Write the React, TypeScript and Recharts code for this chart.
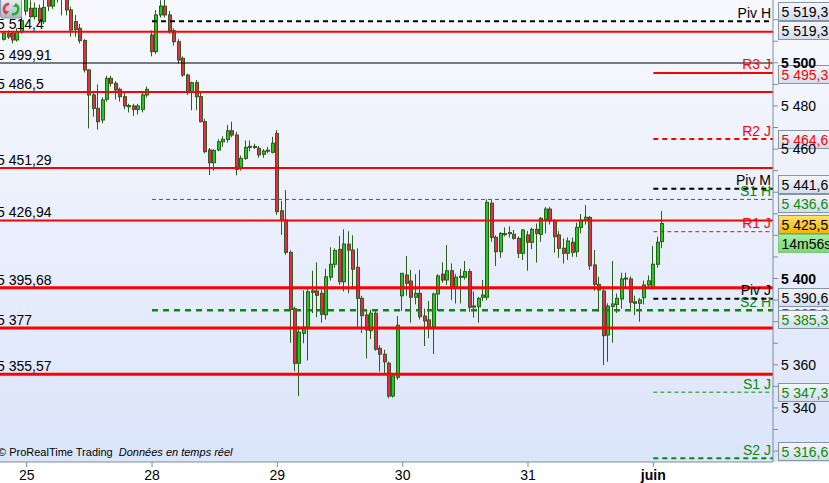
import React from "react"
import { ComposedChart, Bar, XAxis, YAxis, ReferenceLine } from "recharts"

// hourly candles from the 25th to 1 June
const opens = [
  5510.9, 5513.5, 5513.7, 5510.6, 5514.4, 5524.0, 5525.3, 5521.4, 5525.3, 5519.1,
  5530.0, 5526.3, 5531.0, 5533.0, 5529.5, 5524.5, 5519.1, 5516.0, 5510.3, 5496.7,
  5485.1, 5478.9, 5473.5, 5483.1, 5492.8, 5490.5, 5487.7, 5484.3, 5479.6, 5480.0,
  5478.4, 5478.4, 5485.1, 5512.9, 5505.2, 5522.2, 5526.3, 5522.2, 5514.9, 5509.8,
  5502.1, 5494.3, 5486.6, 5490.8, 5484.3, 5472.7, 5459.6, 5453.7, 5459.6, 5463.4,
  5464.5, 5468.5, 5466.5, 5451.6, 5455.7, 5460.8, 5461.2, 5460.4, 5457.6, 5459.0,
  5458.5, 5467.3, 5431.4, 5427.1, 5412.1, 5386.0, 5360.7, 5374.6, 5376.9, 5394.3,
  5394.2, 5393.1, 5383.2, 5400.6, 5406.6, 5413.5, 5398.5, 5415.9, 5413.2, 5405.2,
  5390.8, 5383.1, 5375.8, 5383.9, 5367.6, 5364.9, 5360.7, 5345.5, 5354.2, 5392.0,
  5401.6, 5398.8, 5391.3, 5393.1, 5382.6, 5380.8, 5377.4, 5392.8, 5402.0, 5399.3,
  5403.6, 5395.9, 5400.6, 5400.6, 5403.2, 5386.7, 5386.9, 5391.3, 5391.3, 5434.9,
  5419.1, 5412.4, 5420.5, 5420.8, 5420.5, 5418.6, 5411.7, 5420.2, 5416.8, 5422.8,
  5420.5, 5427.4, 5432.2, 5426.8, 5420.2, 5414.0, 5411.7, 5416.8, 5412.4, 5423.7,
  5427.1, 5428.3, 5406.3, 5397.3, 5394.2, 5373.8, 5387.1, 5388.0, 5390.5, 5399.8,
  5399.8, 5389.2, 5388.5, 5391.1, 5397.0, 5395.8, 5406.6, 5417.1,
]
const highs = [
  5514.4, 5515.0, 5514.4, 5516.0, 5521.4, 5532.0, 5529.0, 5528.0, 5527.0, 5529.5,
  5532.0, 5533.0, 5535.0, 5535.0, 5531.0, 5526.0, 5522.2, 5518.0, 5511.0, 5497.0,
  5487.0, 5490.0, 5484.0, 5494.0, 5494.0, 5491.5, 5488.5, 5486.0, 5481.0, 5481.0,
  5481.0, 5486.0, 5489.0, 5515.0, 5524.5, 5529.0, 5530.0, 5524.0, 5516.0, 5511.0,
  5503.0, 5495.0, 5491.3, 5492.0, 5486.0, 5474.0, 5460.5, 5460.0, 5464.5, 5466.0,
  5471.2, 5472.7, 5468.0, 5457.0, 5464.0, 5464.0, 5462.5, 5461.5, 5460.0, 5461.0,
  5465.7, 5468.8, 5436.0, 5441.0, 5413.0, 5387.0, 5378.0, 5394.5, 5395.0, 5403.6,
  5407.5, 5395.0, 5404.5, 5414.5, 5414.0, 5419.7, 5422.8, 5422.0, 5420.0, 5414.0,
  5392.0, 5385.0, 5385.5, 5385.0, 5369.0, 5367.0, 5361.5, 5356.0, 5382.6, 5402.5,
  5410.4, 5404.0, 5402.0, 5404.0, 5386.0, 5389.6, 5393.5, 5402.0, 5407.5, 5415.5,
  5407.0, 5402.0, 5404.5, 5408.1, 5404.5, 5394.0, 5391.5, 5399.3, 5436.7, 5436.4,
  5420.0, 5421.5, 5423.7, 5424.2, 5422.5, 5419.5, 5423.0, 5422.0, 5423.5, 5425.5,
  5428.5, 5433.2, 5433.2, 5427.5, 5422.0, 5418.6, 5419.0, 5419.0, 5425.9, 5429.9,
  5434.1, 5429.0, 5413.2, 5400.8, 5396.0, 5388.5, 5408.1, 5393.0, 5402.7, 5402.7,
  5401.0, 5392.0, 5391.0, 5399.0, 5401.4, 5415.1, 5419.4, 5431.3,
]
const lows = [
  5510.3, 5511.0, 5509.0, 5509.8, 5513.5, 5522.0, 5520.6, 5520.0, 5518.5, 5518.0,
  5524.0, 5525.0, 5528.0, 5522.0, 5522.0, 5512.1, 5512.1, 5509.0, 5495.5, 5469.6,
  5475.0, 5469.0, 5472.0, 5482.0, 5489.0, 5483.0, 5482.0, 5478.5, 5477.0, 5475.3,
  5476.0, 5477.0, 5484.0, 5503.0, 5504.0, 5521.0, 5521.0, 5513.5, 5508.0, 5499.6,
  5493.5, 5485.1, 5478.0, 5478.1, 5472.4, 5458.0, 5448.0, 5450.0, 5459.0, 5461.0,
  5463.0, 5465.5, 5447.8, 5450.0, 5455.0, 5459.0, 5460.0, 5456.0, 5456.0, 5458.0,
  5458.0, 5429.5, 5420.2, 5411.0, 5370.2, 5357.0, 5345.5, 5370.0, 5362.0, 5384.0,
  5382.0, 5379.5, 5381.0, 5399.0, 5405.0, 5397.0, 5394.0, 5393.1, 5395.0, 5377.6,
  5374.7, 5363.0, 5372.0, 5366.5, 5356.8, 5356.0, 5344.5, 5344.8, 5353.0, 5385.0,
  5392.0, 5379.5, 5388.0, 5381.0, 5368.7, 5372.3, 5365.0, 5385.0, 5398.0, 5397.0,
  5390.0, 5388.4, 5388.4, 5399.5, 5384.6, 5381.9, 5379.5, 5389.5, 5390.0, 5417.0,
  5405.8, 5409.6, 5419.5, 5419.0, 5418.0, 5409.5, 5408.6, 5403.6, 5413.6, 5407.4,
  5417.0, 5421.0, 5425.0, 5412.0, 5409.6, 5407.0, 5408.6, 5410.0, 5410.0, 5421.0,
  5425.0, 5404.0, 5394.3, 5384.6, 5359.9, 5361.4, 5370.2, 5384.0, 5386.0, 5396.0,
  5386.0, 5383.0, 5380.0, 5388.0, 5395.5, 5395.0, 5405.0, 5414.0,
]
const closes = [
  5513.7, 5512.0, 5510.6, 5514.4, 5519.5, 5530.5, 5521.4, 5525.3, 5519.5, 5525.7,
  5526.3, 5531.0, 5533.0, 5529.5, 5524.5, 5515.2, 5515.5, 5510.3, 5496.7, 5485.1,
  5478.9, 5472.7, 5482.8, 5492.8, 5490.5, 5487.4, 5484.3, 5480.0, 5480.2, 5478.4,
  5480.0, 5485.1, 5487.7, 5505.2, 5522.2, 5526.3, 5522.2, 5514.9, 5509.8, 5501.3,
  5494.3, 5486.6, 5490.8, 5484.3, 5472.7, 5458.8, 5453.7, 5459.3, 5463.4, 5464.5,
  5468.5, 5466.5, 5450.6, 5455.7, 5460.8, 5461.3, 5460.8, 5457.3, 5459.1, 5459.5,
  5462.7, 5431.0, 5427.1, 5412.1, 5385.6, 5360.7, 5375.1, 5377.5, 5393.8, 5393.6,
  5392.2, 5383.4, 5400.8, 5406.6, 5413.0, 5398.5, 5416.0, 5413.2, 5404.3, 5390.8,
  5382.8, 5376.1, 5383.9, 5367.2, 5364.9, 5361.4, 5345.5, 5354.8, 5378.3, 5402.4,
  5397.8, 5391.3, 5393.1, 5382.3, 5380.3, 5377.4, 5392.8, 5401.2, 5399.3, 5403.6,
  5395.9, 5400.6, 5401.0, 5403.2, 5386.7, 5387.3, 5390.8, 5392.3, 5435.3, 5419.1,
  5412.4, 5420.9, 5420.8, 5421.3, 5418.6, 5411.7, 5422.5, 5416.8, 5422.8, 5420.9,
  5427.9, 5432.2, 5426.8, 5419.4, 5414.0, 5411.7, 5417.4, 5412.1, 5423.7, 5427.1,
  5428.4, 5405.9, 5397.3, 5394.7, 5373.5, 5387.2, 5388.2, 5390.8, 5399.8, 5400.2,
  5389.0, 5388.5, 5390.1, 5397.0, 5398.9, 5406.6, 5416.8, 5425.5,
]

// first candle of each day
const dayTicks = [5, 33, 61, 89, 117, 145]
const dayLabels = ["25", "28", "29", "30", "31", "juin"]

const priceTicks = [
  5320, 5330, 5340, 5350, 5360, 5370, 5380, 5390, 5400, 5410, 5420,
  5430, 5440, 5450, 5460, 5470, 5480, 5490, 5500, 5510, 5520,
]
const shownTicks = [5340, 5360, 5400, 5460, 5480, 5500]
const boldTicks = [5400, 5500]

// horizontal support / resistance lines drawn by hand
const levels = [5514.4, 5486.5, 5451.29, 5426.94, 5395.68, 5377, 5355.57]
const levelLabels = ["5 514,4", "5 486,5", "5 451,29", "5 426,94", "5 395,68", "5 377", "5 355,57"]
const lastRef = 5499.91
const lastRefLabel = "5 499,91"

// pivot points (H = weekly, M = monthly, J = daily)
const pivotNames = ["Piv H", "S1 H", "S2 H", "R3 J", "R2 J", "Piv M", "R1 J", "Piv J", "S1 J", "S2 J"]
const pivotValues = [5519.3, 5436.67, 5385.3, 5495.3, 5464.67, 5441.67, 5421.7, 5390.67, 5347.3, 5316.67]
const pivotStart = [33, 33, 33, 145, 145, 145, 145, 145, 145, 145]

// price tags on the right axis
const tagTexts = ["5 519,3", "5 519,3", "5 495,3", "5 464,6", "5 441,6", "5 436,6", "5 385,3", "5 390,6", "5 385,3", "5 347,3", "5 316,6", "14m56s", "5 425,5"]
const tagValues = [5519.3, 5519.3, 5495.3, 5464.67, 5441.67, 5436.67, 5385.3, 5390.67, 5385.3, 5347.3, 5316.67, 5425.5, 5425.5]

// --- styling ---
const FONT = "'Liberation Sans', Arial, sans-serif"
const RED = "#ff0000"
const GREEN = "#0a8a0a"
const WICK = "#2f5c1c"
const UP = "#1ecb1e"
const DOWN = "#f2264c"
const X_MIN = -0.96
const X_MAX = 171.74
const Y_MIN = 5314.93
const Y_MAX = 5529.12

const levelWidth = [2, 2, 2, 2, 3, 3, 3]
const pivotStyle: Record<string, { color: string; w: number; dash?: string }> = {
  "Piv H": { color: "#000", w: 2, dash: "5 4" },
  "S1 H": { color: GREEN, w: 1, dash: "4 3" },
  "S2 H": { color: GREEN, w: 2.5, dash: "6 5" },
  "R3 J": { color: RED, w: 2 },
  "R2 J": { color: RED, w: 2, dash: "5 4" },
  "Piv M": { color: "#000", w: 2, dash: "5 4" },
  "R1 J": { color: RED, w: 1, dash: "4 3" },
  "Piv J": { color: "#000", w: 2, dash: "5 4" },
  "S1 J": { color: GREEN, w: 1, dash: "4 3" },
  "S2 J": { color: GREEN, w: 2, dash: "5 4" },
}
const tagStyle = [
  { dy: -10, kind: "plain", color: "#000" },
  { dy: 9, kind: "plain", color: "#000" },
  { dy: 1, kind: "plain", color: RED },
  { dy: 0, kind: "plain", color: RED },
  { dy: -5, kind: "plain", color: "#000" },
  { dy: 4, kind: "plain", color: GREEN },
  { dy: 3, kind: "plain", color: GREEN },
  { dy: -2, kind: "plain", color: "#000" },
  { dy: 9, kind: "plain", color: GREEN },
  { dy: 0, kind: "plain", color: GREEN },
  { dy: -7, kind: "plain", color: GREEN },
  { dy: 19, kind: "timer", color: "#000" },
  { dy: 0, kind: "current", color: "#000" },
]

const rows = opens.map((o, i) => ({ i, o, h: highs[i], l: lows[i], c: closes[i], range: [lows[i], highs[i]] }))

const fmtPrice = (v: number) => `${Math.floor(v / 1000)} ${String(v % 1000).padStart(3, "0")}`

function Candle(props: any) {
  const { x, y, width, height } = props
  const p = props.payload || props
  if (x == null || y == null || p == null) return null
  const top = Math.min(y, y + height)
  const bottom = Math.max(y, y + height)
  const k = (bottom - top) / (p.h - p.l || 1)
  const py = (v: number) => top + (p.h - v) * k
  const left = Math.round(x + width / 2 - 2)
  const bTop = py(Math.max(p.o, p.c))
  const bBot = py(Math.min(p.o, p.c))
  return (
    <g>
      <line x1={left + 1.5} x2={left + 1.5} y1={top} y2={bottom} stroke={WICK} strokeWidth={1} />
      <rect x={left + 0.5} y={bTop} width={3} height={Math.max(bBot - bTop, 1)} fill={p.c >= p.o ? UP : DOWN} stroke={WICK} strokeWidth={1} />
    </g>
  )
}

function PriceTick(props: any) {
  const { x, y, payload } = props
  const v = payload.value
  if (!shownTicks.includes(v)) return null
  return (
    <text x={x + 1} y={y} dy={5} fontSize={14} fontFamily={FONT} fontWeight={boldTicks.includes(v) ? 700 : 400} fill="#000">
      {fmtPrice(v)}
    </text>
  )
}

function DayTick(props: any) {
  const { x, y, payload } = props
  const idx = dayTicks.indexOf(payload.value)
  const txt = dayLabels[idx]
  return (
    <text x={x} y={y} dy={11} textAnchor="middle" fontSize={14} fontFamily={FONT} fontWeight={txt === "juin" ? 700 : 400} fill="#000">
      {txt}
    </text>
  )
}

const leftLabel = (txt: string) => (props: any) => {
  const vb = props.viewBox
  return (
    <text x={vb.x - 3} y={vb.y - 3} fontSize={14} fontFamily={FONT} fill="#000">
      {txt}
    </text>
  )
}

const nameLabel = (txt: string, color: string) => (props: any) => {
  const vb = props.viewBox
  return (
    <text x={vb.x + vb.width - 2} y={vb.y - 3.5} textAnchor="end" fontSize={14} fontFamily={FONT} fill={color}>
      {txt}
    </text>
  )
}

const priceTag = (txt: string, k: number) => (props: any) => {
  const vb = props.viewBox
  const st = tagStyle[k]
  const bx = vb.x + vb.width + 5.5
  const by = Math.round(vb.y + st.dy - 9) + 0.5
  const gid = `tag${k}`
  const stops =
    st.kind === "current" ? ["#ffe36a", "#f2b400"] : st.kind === "timer" ? ["#a6f0a6", "#78d878"] : ["#f3f6fb", "#d5ddea"]
  return (
    <g>
      <defs>
        <linearGradient id={gid} x1="0" x2="0" y1="0" y2="1">
          <stop offset="0%" stopColor={stops[0]} />
          <stop offset="100%" stopColor={stops[1]} />
        </linearGradient>
      </defs>
      <rect x={bx} y={by} width={60} height={18} fill={`url(#${gid})`} stroke={st.kind === "timer" ? "#7cc87c" : "#8494aa"} strokeWidth={1} />
      <text x={bx + 3} y={by + 14} fontSize={14} fontFamily={FONT} fill={st.color}>
        {txt}
      </text>
    </g>
  )
}

function RefreshIcon() {
  return (
    <svg width={23} height={19} style={{ position: "absolute", left: 0, top: 0 }}>
      <defs>
        <linearGradient id="ico" x1="0" x2="0" y1="0" y2="1">
          <stop offset="0%" stopColor="#eef2f7" />
          <stop offset="100%" stopColor="#aab6c6" />
        </linearGradient>
      </defs>
      <rect x={0.5} y={-2} width={21} height={20} rx={2} fill="url(#ico)" stroke="#8a9ab0" />
      <path d="M9 4 A5 5 0 0 0 6 13" fill="none" stroke="#e23a3a" strokeWidth={2.4} />
      <path d="M3 11 L6 15 L9 11 Z" fill="#e23a3a" />
      <path d="M12 14 A5 5 0 0 0 16 5" fill="none" stroke="#22b022" strokeWidth={2.4} />
      <path d="M13 7 L16 3 L19 7 Z" fill="#22b022" />
    </svg>
  )
}

export default function App() {
  return (
    <div
      style={{
        position: "absolute",
        left: 0,
        top: 0,
        width: 829,
        height: 483,
        overflow: "hidden",
        fontFamily: FONT,
        background: "linear-gradient(to bottom, #f8f9fe 0px, #dbe5fa 462px, #ffffff 462px, #ffffff 483px)",
      }}
    >
      <ComposedChart width={829} height={483} data={rows} margin={{ top: 0, right: 0, bottom: 0, left: 0 }}>
        <XAxis
          dataKey="i"
          type="number"
          domain={[X_MIN, X_MAX]}
          allowDataOverflow
          ticks={dayTicks}
          interval={0}
          height={21}
          tick={<DayTick />}
          tickSize={5}
          stroke="#7d8c9c"
        />
        <YAxis
          orientation="right"
          type="number"
          domain={[Y_MIN, Y_MAX]}
          allowDataOverflow
          ticks={priceTicks}
          interval={0}
          width={56}
          tick={<PriceTick />}
          tickSize={5}
          stroke="#7d8c9c"
        />
        <Bar dataKey="range" barSize={4} shape={<Candle />} isAnimationActive={false} />

        <ReferenceLine y={lastRef} stroke="#000" strokeWidth={1} label={leftLabel(lastRefLabel)} />
        {levels.map((v, k) => (
          <ReferenceLine key={`lv${k}`} y={v} stroke={RED} strokeWidth={levelWidth[k]} label={leftLabel(levelLabels[k])} />
        ))}
        {pivotNames.map((name, k) => {
          const st = pivotStyle[name]
          return (
            <ReferenceLine
              key={name}
              segment={[
                { x: pivotStart[k], y: pivotValues[k] },
                { x: X_MAX, y: pivotValues[k] },
              ]}
              stroke={st.color}
              strokeWidth={st.w}
              strokeDasharray={st.dash}
              label={nameLabel(name, st.color)}
            />
          )
        })}
        {tagTexts.map((txt, k) => (
          <ReferenceLine key={`tag${k}`} y={tagValues[k]} stroke="none" label={priceTag(txt, k)} />
        ))}
      </ComposedChart>
      <RefreshIcon />
      <div style={{ position: "absolute", left: -2, top: 446, fontSize: 11, fontFamily: FONT, color: "#000", whiteSpace: "pre" }}>
        {"© ProRealTime Trading  "}
        <i>Données en temps réel</i>
      </div>
    </div>
  )
}
